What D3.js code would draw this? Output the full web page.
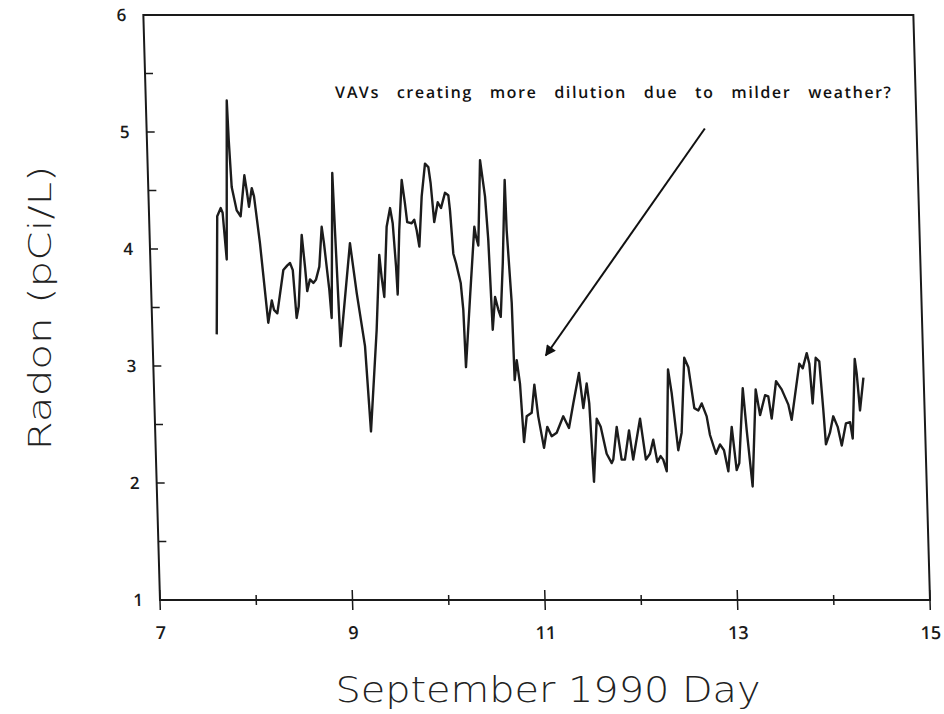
<!DOCTYPE html>
<html>
<head>
<meta charset="utf-8">
<script src="https://cdn.jsdelivr.net/npm/d3@7"></script>
<style>
  body { margin: 0; background: #fff; }
  svg { display: block; }
</style>
</head>
<body>
<div id="chart"></div>
<script>
// hourly radon readings
var days = [7.668, 7.708, 7.747, 7.765, 7.794, 7.841, 7.850, 7.867, 7.912, 7.951,
    8.002, 8.022, 8.041, 8.075, 8.096, 8.144, 8.207, 8.250, 8.270, 8.304,
    8.379, 8.422, 8.451, 8.477, 8.503, 8.528, 8.580, 8.605, 8.621, 8.653,
    8.687, 8.716, 8.754, 8.790, 8.809, 8.851, 8.867, 8.916, 8.927, 8.952,
    8.988, 9.079, 9.135, 9.205, 9.242, 9.331, 9.380, 9.398, 9.420, 9.465,
    9.506, 9.529, 9.551, 9.560, 9.595, 9.635, 9.662, 9.680, 9.726, 9.754,
    9.776, 9.799, 9.838, 9.882, 9.916, 9.935, 9.961, 10.003, 10.035, 10.081,
    10.115, 10.128, 10.150, 10.175, 10.218, 10.237, 10.248, 10.311, 10.376, 10.390,
    10.412, 10.455, 10.496, 10.517, 10.537, 10.571, 10.601, 10.624, 10.661, 10.705,
    10.711, 10.742, 10.750, 10.777, 10.804, 10.829, 10.864, 10.917, 10.953, 10.984,
    11.035, 11.075, 11.118, 11.171, 11.244, 11.300, 11.352, 11.420, 11.455, 11.497,
    11.518, 11.544, 11.591, 11.630, 11.684, 11.734, 11.751, 11.796, 11.838, 11.872,
    11.923, 11.958, 12.041, 12.090, 12.134, 12.172, 12.208, 12.244, 12.270, 12.303,
    12.346, 12.377, 12.429, 12.469, 12.518, 12.558, 12.608, 12.649, 12.686, 12.734,
    12.763, 12.820, 12.864, 12.904, 12.943, 12.991, 13.030, 13.059, 13.117, 13.146,
    13.191, 13.251, 13.289, 13.347, 13.380, 13.409, 13.465, 13.521, 13.586, 13.616,
    13.712, 13.746, 13.792, 13.816, 13.839, 13.884, 13.920, 13.948, 13.965, 14.010,
    14.049, 14.092, 14.129, 14.179, 14.222, 14.245, 14.289, 14.305, 14.329, 14.374];

var radon = [3.27, 4.28, 4.35, 4.31, 3.91, 5.27, 4.93, 4.53, 4.33, 4.28,
    4.63, 4.50, 4.36, 4.52, 4.45, 4.05, 3.37, 3.56, 3.48, 3.45,
    3.82, 3.86, 3.88, 3.82, 3.41, 3.51, 4.12, 3.85, 3.64, 3.74,
    3.71, 3.74, 3.85, 4.19, 4.05, 3.65, 3.41, 4.65, 4.16, 3.17,
    3.42, 4.05, 3.62, 3.17, 2.44, 3.31, 3.95, 3.76, 3.59, 4.19,
    4.35, 4.22, 3.85, 3.61, 4.16, 4.59, 4.39, 4.23, 4.22, 4.25,
    4.16, 4.02, 4.45, 4.73, 4.70, 4.56, 4.23, 4.40, 4.35, 4.48,
    4.46, 4.33, 3.96, 3.88, 3.71, 3.48, 2.99, 3.59, 4.19, 4.11,
    4.03, 4.76, 4.45, 4.08, 3.31, 3.59, 3.48, 3.42, 3.88, 4.59,
    4.16, 3.54, 2.88, 3.05, 2.85, 2.35, 2.57, 2.60, 2.84, 2.57,
    2.30, 2.48, 2.40, 2.43, 2.57, 2.47, 2.68, 2.94, 2.64, 2.85,
    2.68, 2.01, 2.55, 2.48, 2.25, 2.17, 2.20, 2.48, 2.20, 2.20,
    2.45, 2.20, 2.55, 2.20, 2.25, 2.37, 2.18, 2.23, 2.20, 2.10,
    2.97, 2.77, 2.28, 2.43, 3.07, 2.99, 2.64, 2.62, 2.68, 2.57,
    2.41, 2.25, 2.33, 2.28, 2.10, 2.48, 2.11, 2.17, 2.81, 2.45,
    1.97, 2.80, 2.58, 2.75, 2.74, 2.55, 2.87, 2.80, 2.67, 2.54,
    3.02, 2.98, 3.11, 3.02, 2.68, 3.07, 3.04, 2.62, 2.33, 2.43,
    2.57, 2.48, 2.32, 2.51, 2.52, 2.38, 3.06, 2.94, 2.62, 2.90];

var xTicks = [7, 8, 9, 10, 11, 12, 13, 14, 15];
var xLabels = [7, 9, 11, 13, 15];
var yTicks = [1, 1.5, 2, 2.5, 3, 3.5, 4, 4.5, 5, 5.5, 6];
var yLabels = [1, 2, 3, 4, 5, 6];

var note = "VAVs creating more dilution due to milder weather?";
var noteAt = [8.97, 5.29];          // day, radon where the text starts
var noteEnd = 14.76;                // day where it ends
var arrowFrom = [12.80, 5.03];
var arrowTo = [11.08, 3.09];

var width = 944, height = 714;
var plotW = 770, plotH = 585;
var font = "'Open Sans', 'Liberation Sans', Arial, sans-serif";

var svg = d3.select("#chart")
    .append("svg")
    .attr("width", width)
    .attr("height", height);

svg.append("defs").append("marker")
    .attr("id", "head")
    .attr("viewBox", "0 0 10 10")
    .attr("refX", 9)
    .attr("refY", 5)
    .attr("markerWidth", 18)
    .attr("markerHeight", 11)
    .attr("markerUnits", "userSpaceOnUse")
    .attr("orient", "auto")
    .append("path")
    .attr("d", "M0,0 L10,5 L0,10 z")
    .attr("fill", "#111");

// the scan leans a little, so the whole frame is sheared
var g = svg.append("g")
    .attr("transform", "translate(160,600) skewX(1.63)");

var x = d3.scaleLinear().domain([7, 15]).range([0, plotW]);
var y = d3.scaleLinear().domain([1, 6]).range([0, -plotH]);

// frame
g.append("rect")
    .attr("x", 0)
    .attr("y", -plotH)
    .attr("width", plotW)
    .attr("height", plotH)
    .attr("fill", "none")
    .attr("stroke", "#1a1a1a")
    .attr("stroke-width", 2);

// x ticks cross the axis, labelled ones are longer
g.selectAll(".xt")
    .data(xTicks)
    .enter()
    .append("line")
    .attr("class", "xt")
    .attr("x1", function(d) { return x(d) })
    .attr("x2", function(d) { return x(d) })
    .attr("y1", function(d) { return xLabels.indexOf(d) >= 0 ? -10 : -5 })
    .attr("y2", function(d) { return xLabels.indexOf(d) >= 0 ? 10 : 5 })
    .attr("stroke", "#1a1a1a")
    .attr("stroke-width", 1.5);

g.selectAll(".xl")
    .data(xLabels)
    .enter()
    .append("text")
    .attr("class", "xl")
    .attr("x", function(d) { return x(d) })
    .attr("y", 39)
    .attr("text-anchor", "middle")
    .style("font-family", font)
    .style("font-weight", 600)
    .style("font-size", "18px")
    .attr("fill", "#1a1a1a")
    .text(function(d) { return d });

// y ticks point inward
g.selectAll(".yt")
    .data(yTicks)
    .enter()
    .append("line")
    .attr("class", "yt")
    .attr("x1", 0)
    .attr("x2", 8)
    .attr("y1", function(d) { return y(d) })
    .attr("y2", function(d) { return y(d) })
    .attr("stroke", "#1a1a1a")
    .attr("stroke-width", 1.5);

g.selectAll(".yl")
    .data(yLabels)
    .enter()
    .append("text")
    .attr("class", "yl")
    .attr("x", -17)
    .attr("y", function(d) { return y(d) })
    .attr("dy", "0.35em")
    .attr("text-anchor", "end")
    .style("font-family", font)
    .style("font-weight", 600)
    .style("font-size", "17px")
    .attr("fill", "#1a1a1a")
    .text(function(d) { return d });

var line = d3.line()
    .x(function(d) { return x(d[0]) })
    .y(function(d) { return y(d[1]) });

g.append("path")
    .datum(d3.zip(days, radon))
    .attr("d", line)
    .attr("fill", "none")
    .attr("stroke", "#1c1c1c")
    .attr("stroke-width", 2.4)
    .attr("stroke-linejoin", "round");

// annotation, words spread out like the plotter did
var noteText = g.append("text")
    .attr("x", x(noteAt[0]))
    .attr("y", y(noteAt[1]))
    .style("font-family", font)
    .style("font-weight", 600)
    .style("font-size", "16px")
    .style("letter-spacing", "1.6px")
    .attr("fill", "#111")
    .text(note);
var natural = noteText.node().getComputedTextLength();
var gaps = note.split(" ").length - 1;
noteText.style("word-spacing", Math.max(0, (x(noteEnd) - x(noteAt[0]) - natural) / gaps) + "px");

g.append("line")
    .attr("x1", x(arrowFrom[0]))
    .attr("y1", y(arrowFrom[1]))
    .attr("x2", x(arrowTo[0]))
    .attr("y2", y(arrowTo[1]))
    .attr("stroke", "#111")
    .attr("stroke-width", 2)
    .attr("marker-end", "url(#head)");

// axis titles
svg.append("text")
    .attr("transform", "translate(40,308) rotate(-90)")
    .attr("text-anchor", "middle")
    .attr("dy", "0.35em")
    .attr("textLength", 285)
    .attr("lengthAdjust", "spacingAndGlyphs")
    .style("font-family", "'DejaVu Sans', sans-serif")
    .style("font-weight", 200)
    .style("font-size", "32px")
    .attr("fill", "#222")
    .text("Radon  (pCi/L)");

svg.append("text")
    .attr("x", 548)
    .attr("y", 702)
    .attr("text-anchor", "middle")
    .attr("textLength", 425)
    .attr("lengthAdjust", "spacingAndGlyphs")
    .style("font-family", "'DejaVu Sans', sans-serif")
    .style("font-weight", 200)
    .style("font-size", "36px")
    .attr("fill", "#222")
    .text("September  1990  Day");
</script>
</body>
</html>
